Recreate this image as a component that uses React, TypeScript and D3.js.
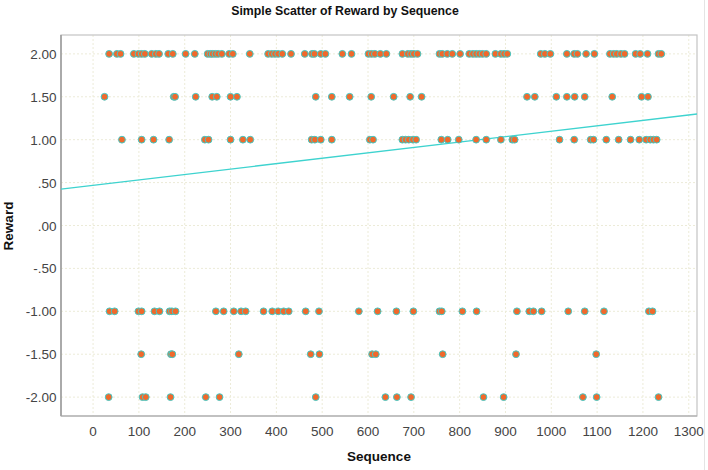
import React from "react";
import * as d3 from "d3";

// Sequence values for each Reward level
const reward2 = [35, 52, 60, 89, 99, 106, 113, 128, 137, 144, 164, 174, 202, 222, 250, 256, 261, 267, 273, 281, 297, 305, 342, 382, 390, 397, 404, 413, 432, 462, 478, 483, 497, 507, 544, 564, 601, 608, 615, 627, 640, 675, 687, 694, 700, 708, 756, 762, 773, 784, 801, 821, 829, 836, 843, 850, 858, 878, 890, 897, 904, 977, 986, 998, 1034, 1050, 1057, 1076, 1094, 1128, 1136, 1143, 1152, 1160, 1184, 1194, 1210, 1234, 1240];
const reward15 = [25, 176, 179, 224, 260, 270, 300, 314, 486, 521, 560, 607, 656, 692, 717, 947, 964, 1011, 1034, 1051, 1073, 1133, 1197, 1211];
const reward1 = [63, 106, 132, 166, 244, 252, 300, 327, 343, 477, 484, 497, 521, 604, 611, 675, 682, 689, 698, 705, 760, 774, 798, 836, 858, 890, 915, 920, 1018, 1050, 1086, 1092, 1120, 1147, 1173, 1192, 1207, 1216, 1223, 1230];
const rewardM1 = [36, 47, 99, 106, 134, 145, 167, 172, 180, 268, 285, 307, 323, 333, 372, 391, 404, 416, 427, 464, 493, 580, 621, 662, 699, 756, 761, 806, 837, 925, 952, 961, 979, 1037, 1073, 1115, 1213, 1221];
const rewardM15 = [105, 170, 173, 318, 475, 494, 609, 617, 763, 923, 1098];
const rewardM2 = [34, 108, 115, 169, 246, 276, 486, 638, 663, 694, 852, 896, 1069, 1099, 1234];

const rewardLevels = [2, 1.5, 1, -1, -1.5, -2];
const rewardSeries = [reward2, reward15, reward1, rewardM1, rewardM15, rewardM2];

const xTicks = d3.range(0, 1301, 100);
const yTicks = [2, 1.5, 1, 0.5, 0, -0.5, -1, -1.5, -2];

// fit line
const fitIntercept = 0.469;
const fitSlope = 0.00063;

const W = 708;
const H = 470;
const left = 61, right = 697, top = 35, bottom = 416;

// SPSS style: no leading zero (".50", "-1.00")
const fmtY = (v: number) => v.toFixed(2).replace(/^(-?)0\./, "$1.");

export default function App() {
  const x = d3.scaleLinear().domain([-70, 1318]).range([left, right]);
  const y = d3.scaleLinear().domain([-2.22, 2.22]).range([bottom, top]);

  const points = rewardSeries.flatMap((xs, i) => xs.map(s => ({ s, r: rewardLevels[i] })));
  const [x0, x1] = x.domain();
  const fit = d3.line<number>().x(d => x(d)).y(d => y(fitIntercept + fitSlope * d));

  const font = "'Liberation Sans', Arial, sans-serif";

  return (
    <div style={{ position: "absolute", left: 0, top: 0, background: "#fff" }}>
      <svg width={W} height={H} style={{ display: "block", fontFamily: font }}>
        <rect width={W} height={H} fill="#fff" />
        <line x1={704.5} x2={704.5} y1={0} y2={H} stroke="#e4e4e4" />
        <text x={345} y={15} textAnchor="middle" fontSize={12.3} fontWeight="bold" fill="#111">
          Simple Scatter of Reward by Sequence
        </text>

        {/* grid */}
        {xTicks.map(t => (
          <line key={"gx" + t} x1={x(t)} x2={x(t)} y1={top} y2={bottom} stroke="#ecebd8" strokeDasharray="2,2" />
        ))}
        {yTicks.map(t => (
          <line key={"gy" + t} x1={left} x2={right} y1={y(t)} y2={y(t)} stroke="#ecebd8" strokeDasharray="2,2" />
        ))}

        {/* frame */}
        <rect x={left} y={top} width={right - left} height={bottom - top} fill="none" stroke="#c4c4c4" strokeWidth={1.2} />
        <line x1={left} x2={left} y1={top} y2={bottom} stroke="#9a9a9a" strokeWidth={1.5} />
        <line x1={left} x2={right} y1={bottom} y2={bottom} stroke="#a8a8a8" strokeWidth={1.2} />

        {/* ticks */}
        {xTicks.map(t => (
          <text key={"tx" + t} x={x(t)} y={436} textAnchor="middle" fontSize={13.5} fill="#444">
            {t}
          </text>
        ))}
        {yTicks.map(t => (
          <text key={"ty" + t} x={56.5} y={y(t) + 5} textAnchor="end" fontSize={13.5} fill="#444">
            {fmtY(t)}
          </text>
        ))}

        {/* fit line */}
        <path d={fit([x0, x1]) || ""} fill="none" stroke="#3ed3cf" strokeWidth={1.3} />

        {/* points */}
        {points.map((p, i) => (
          <circle key={i} cx={x(p.s)} cy={y(p.r)} r={3.4} fill="#f0692c" stroke="#42c9c6" strokeWidth={1} />
        ))}

        <text x={379} y={461} textAnchor="middle" fontSize={13.5} fontWeight="bold" fill="#111">
          Sequence
        </text>
        <text transform={`translate(13,226) rotate(-90)`} textAnchor="middle" fontSize={13.5} fontWeight="bold" fill="#111">
          Reward
        </text>
      </svg>
    </div>
  );
}
